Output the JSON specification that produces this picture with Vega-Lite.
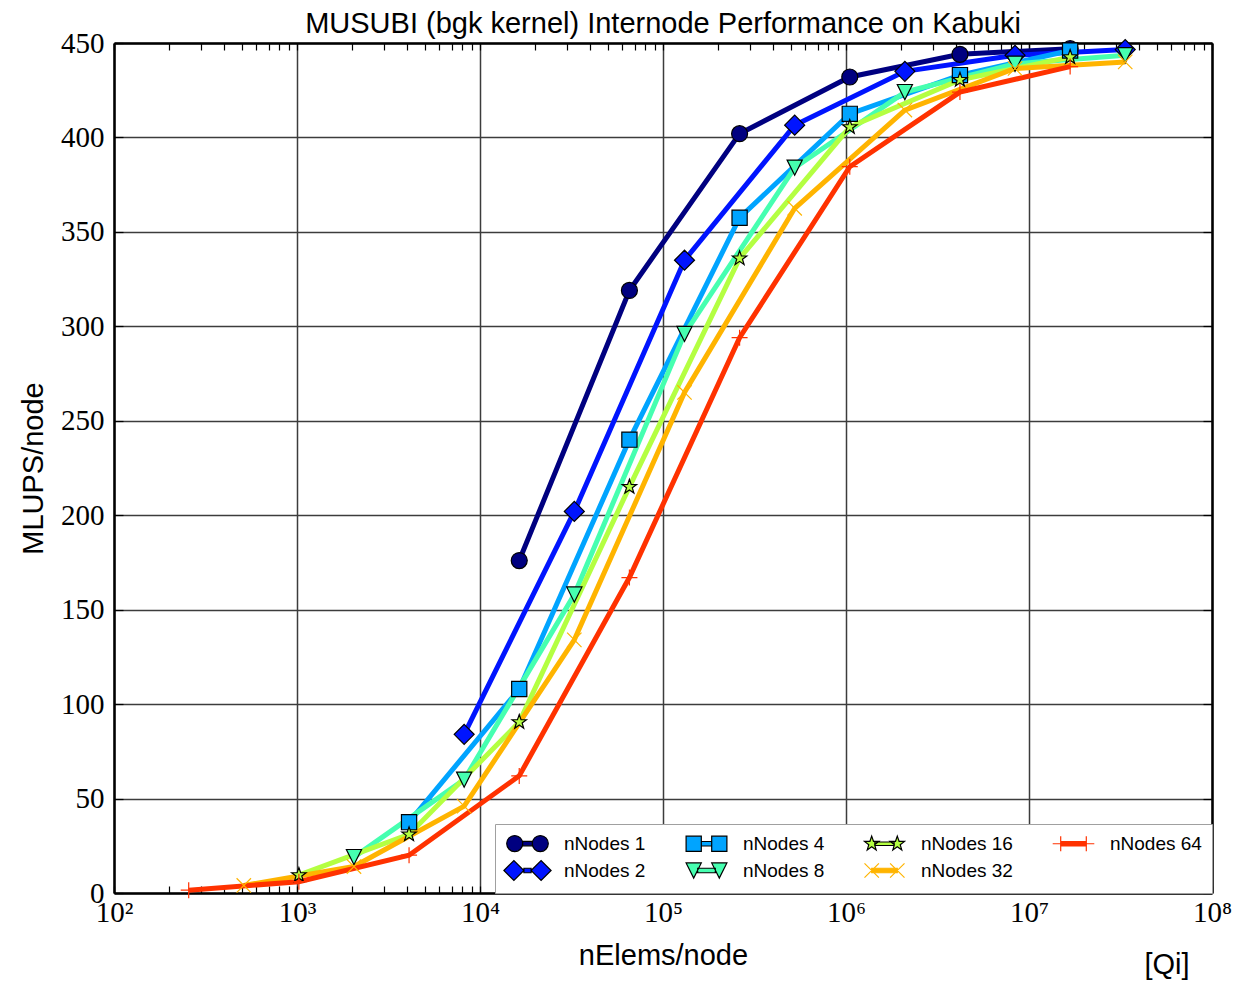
{
  "$schema": "https://vega.github.io/schema/vega-lite/v6.json",
  "width": 1098,
  "height": 850,
  "autosize": "none",
  "padding": {"left": 114, "top": 43, "right": 34, "bottom": 88},
  "background": "white",
  "title": {"text": "MUSUBI (bgk kernel) Internode Performance on Kabuki", "font": "Liberation Sans", "fontSize": 29, "fontWeight": "normal", "color": "black", "anchor": "middle", "offset": -10},
  "config": {"view": {"stroke": null}},
  "data": {"values": [
    {"nodes": "nNodes 1", "elems": 16384, "mlups": 176},
    {"nodes": "nNodes 1", "elems": 65536, "mlups": 319},
    {"nodes": "nNodes 1", "elems": 262144, "mlups": 402},
    {"nodes": "nNodes 1", "elems": 1048576, "mlups": 432},
    {"nodes": "nNodes 1", "elems": 4194304, "mlups": 444},
    {"nodes": "nNodes 1", "elems": 16777216, "mlups": 447},
    {"nodes": "nNodes 2", "elems": 8192, "mlups": 84},
    {"nodes": "nNodes 2", "elems": 32768, "mlups": 202},
    {"nodes": "nNodes 2", "elems": 131072, "mlups": 335},
    {"nodes": "nNodes 2", "elems": 524288, "mlups": 406.5},
    {"nodes": "nNodes 2", "elems": 2097152, "mlups": 435},
    {"nodes": "nNodes 2", "elems": 8388608, "mlups": 443.5},
    {"nodes": "nNodes 2", "elems": 33554432, "mlups": 446.5},
    {"nodes": "nNodes 4", "elems": 4096, "mlups": 37.5},
    {"nodes": "nNodes 4", "elems": 16384, "mlups": 108},
    {"nodes": "nNodes 4", "elems": 65536, "mlups": 240},
    {"nodes": "nNodes 4", "elems": 262144, "mlups": 357.5},
    {"nodes": "nNodes 4", "elems": 1048576, "mlups": 412.5},
    {"nodes": "nNodes 4", "elems": 4194304, "mlups": 433},
    {"nodes": "nNodes 4", "elems": 16777216, "mlups": 446},
    {"nodes": "nNodes 8", "elems": 2048, "mlups": 19},
    {"nodes": "nNodes 8", "elems": 8192, "mlups": 60},
    {"nodes": "nNodes 8", "elems": 32768, "mlups": 158},
    {"nodes": "nNodes 8", "elems": 131072, "mlups": 296},
    {"nodes": "nNodes 8", "elems": 524288, "mlups": 384},
    {"nodes": "nNodes 8", "elems": 2097152, "mlups": 424},
    {"nodes": "nNodes 8", "elems": 8388608, "mlups": 439},
    {"nodes": "nNodes 8", "elems": 33554432, "mlups": 443.5},
    {"nodes": "nNodes 16", "elems": 1024, "mlups": 9.5},
    {"nodes": "nNodes 16", "elems": 4096, "mlups": 31},
    {"nodes": "nNodes 16", "elems": 16384, "mlups": 90.5},
    {"nodes": "nNodes 16", "elems": 65536, "mlups": 215},
    {"nodes": "nNodes 16", "elems": 262144, "mlups": 336},
    {"nodes": "nNodes 16", "elems": 1048576, "mlups": 405.5},
    {"nodes": "nNodes 16", "elems": 4194304, "mlups": 430.5},
    {"nodes": "nNodes 16", "elems": 16777216, "mlups": 442.5},
    {"nodes": "nNodes 32", "elems": 512, "mlups": 4},
    {"nodes": "nNodes 32", "elems": 2048, "mlups": 14},
    {"nodes": "nNodes 32", "elems": 8192, "mlups": 46},
    {"nodes": "nNodes 32", "elems": 32768, "mlups": 134},
    {"nodes": "nNodes 32", "elems": 131072, "mlups": 265},
    {"nodes": "nNodes 32", "elems": 524288, "mlups": 362.5},
    {"nodes": "nNodes 32", "elems": 2097152, "mlups": 414.5},
    {"nodes": "nNodes 32", "elems": 8388608, "mlups": 436.5},
    {"nodes": "nNodes 32", "elems": 33554432, "mlups": 440},
    {"nodes": "nNodes 64", "elems": 256, "mlups": 1.5},
    {"nodes": "nNodes 64", "elems": 1024, "mlups": 6},
    {"nodes": "nNodes 64", "elems": 4096, "mlups": 20},
    {"nodes": "nNodes 64", "elems": 16384, "mlups": 62},
    {"nodes": "nNodes 64", "elems": 65536, "mlups": 167},
    {"nodes": "nNodes 64", "elems": 262144, "mlups": 294},
    {"nodes": "nNodes 64", "elems": 1048576, "mlups": 384.5},
    {"nodes": "nNodes 64", "elems": 4194304, "mlups": 424},
    {"nodes": "nNodes 64", "elems": 16777216, "mlups": 437.5}
  ]},
  "resolve": {"axis": {"x": "independent", "y": "independent"}},
  "layer": [
    {
      "mark": {"type": "line", "strokeWidth": 5, "clip": false},
      "encoding": {
        "x": {"field": "elems", "type": "quantitative",
          "scale": {"type": "log", "domain": [100, 100000000], "nice": false},
          "axis": {"orient": "bottom", "values": [100, 1000, 10000, 100000, 1000000, 10000000, 100000000],
            "labelExpr": "datum.value==100?'10²':datum.value==1000?'10³':datum.value==10000?'10⁴':datum.value==100000?'10⁵':datum.value==1000000?'10⁶':datum.value==10000000?'10⁷':'10⁸'",
            "grid": true, "gridColor": "#3c3c3c", "gridWidth": 1.5, "ticks": false,
            "domain": true, "domainColor": "black", "domainWidth": 2.5,
            "labelFont": "Liberation Serif", "labelFontSize": 29, "labelColor": "black", "labelPadding": 5, "labelFlush": false, "labelOverlap": false,
            "title": "nElems/node", "titleFont": "Liberation Sans", "titleFontSize": 29, "titleFontWeight": "normal", "titleColor": "black",
            "titleX": 549, "titleY": 62, "titleBaseline": "middle", "titleAlign": "center"}},
        "y": {"field": "mlups", "type": "quantitative",
          "scale": {"domain": [0, 450], "nice": false},
          "axis": {"orient": "left", "values": [0, 50, 100, 150, 200, 250, 300, 350, 400, 450],
            "grid": true, "gridColor": "#3c3c3c", "gridWidth": 1.5, "ticks": false,
            "domain": true, "domainColor": "black", "domainWidth": 2.5,
            "labelFont": "Liberation Serif", "labelFontSize": 29, "labelColor": "black", "labelPadding": 10, "labelFlush": false, "labelOverlap": false,
            "title": "MLUPS/node", "titleFont": "Liberation Sans", "titleFontSize": 29, "titleFontWeight": "normal", "titleColor": "black",
            "titleX": -81, "titleY": 425, "titleAngle": -90, "titleBaseline": "middle", "titleAlign": "center"}},
        "stroke": {"field": "nodes", "type": "nominal", "legend": null,
          "scale": {"domain": ["nNodes 64", "nNodes 32", "nNodes 16", "nNodes 8", "nNodes 4", "nNodes 2", "nNodes 1"],
                    "range": ["#ff3200", "#ffb400", "#b4ff42", "#46ffb0", "#00a4ff", "#0014ff", "#000080"]}}
      }
    },
    {
      "mark": {"type": "point", "filled": true, "size": 256, "strokeWidth": 1.2, "opacity": 1, "clip": false},
      "encoding": {
        "x": {"field": "elems", "type": "quantitative",
          "scale": {"type": "log", "domain": [100, 100000000], "nice": false},
          "axis": {"orient": "top", "values": [100,200,300,400,500,600,700,800,900,1000,2000,3000,4000,5000,6000,7000,8000,9000,10000,20000,30000,40000,50000,60000,70000,80000,90000,100000,200000,300000,400000,500000,600000,700000,800000,900000,1000000,2000000,3000000,4000000,5000000,6000000,7000000,8000000,9000000,10000000,20000000,30000000,40000000,50000000,60000000,70000000,80000000,90000000,100000000],
            "labels": false, "grid": false, "ticks": true, "tickSize": -7, "tickColor": "black", "tickWidth": 1.2,
            "domain": true, "domainColor": "black", "domainWidth": 2.5, "title": null}},
        "y": {"field": "mlups", "type": "quantitative",
          "scale": {"domain": [0, 450], "nice": false},
          "axis": {"orient": "right", "values": [0, 50, 100, 150, 200, 250, 300, 350, 400, 450],
            "labels": false, "grid": false, "ticks": true, "tickSize": -9, "tickColor": "black", "tickWidth": 1.2,
            "domain": true, "domainColor": "black", "domainWidth": 2.5, "title": null}},
        "fill": {"field": "nodes", "type": "nominal",
          "scale": {"domain": ["nNodes 1", "nNodes 2", "nNodes 4", "nNodes 8", "nNodes 16", "nNodes 32", "nNodes 64"],
                    "range": ["#000080", "#0014ff", "#00a4ff", "#46ffb0", "#b4ff42", "#ffb400", "#ff3200"]}},
        "shape": {"condition": [
            {"test": "datum.nodes=='nNodes 2'", "value": "M-1.25,0L0,-1.25L1.25,0L0,1.25Z"},
            {"test": "datum.nodes=='nNodes 4'", "value": "M-0.95,-0.95H0.95V0.95H-0.95Z"},
            {"test": "datum.nodes=='nNodes 8'", "value": "M-0.95,-0.95H0.95L0,0.95Z"},
            {"test": "datum.nodes=='nNodes 16'", "value": "M0,-0.95L0.223,-0.308L0.903,-0.294L0.361,0.118L0.559,0.769L0,0.38L-0.559,0.769L-0.361,0.118L-0.903,-0.294L-0.223,-0.308Z"},
            {"test": "datum.nodes=='nNodes 32'", "value": "M-0.9,-0.9L0.9,0.9M-0.9,0.9L0.9,-0.9"},
            {"test": "datum.nodes=='nNodes 64'", "value": "M-1,0H1M0,-1V1"}
          ], "value": "circle"},
        "stroke": {"condition": {"test": "datum.nodes=='nNodes 32'||datum.nodes=='nNodes 64'", "field": "nodes", "type": "nominal", "legend": null}, "value": "black"}
      }
    },
    {
      "transform": [{"filter": "false"}],
      "mark": {"type": "point", "filled": false, "size": 256, "strokeWidth": 1.2, "opacity": 1},
      "encoding": {
        "fill": {"field": "nodes", "type": "nominal",
          "scale": {"domain": ["nNodes 1", "nNodes 2", "nNodes 4", "nNodes 8", "nNodes 16", "nNodes 32", "nNodes 64"],
                    "range": ["#000080", "#0014ff", "#00a4ff", "#46ffb0", "#b4ff42", "#ffb400", "#ff3200"]},
          "legend": {"title": null, "orient": "bottom-right", "offset": 0, "columns": 4,
            "fillColor": "white", "strokeColor": "#a0a0a0", "padding": 10,
            "labelFont": "Liberation Sans", "labelFontSize": 19, "labelColor": "black",
            "symbolSize": 256, "symbolOffset": 13, "labelOffset": 27, "columnPadding": 37, "rowPadding": 4,
            "symbolStrokeWidth": 1.2, "symbolOpacity": 1}},
        "color": {"field": "nodes", "type": "nominal", "legend": null,
          "scale": {"domain": ["nNodes 1", "nNodes 2", "nNodes 4", "nNodes 8", "nNodes 16", "nNodes 32", "nNodes 64"],
                    "range": ["black", "black", "black", "black", "black", "#ffb400", "#ff3200"]}},
        "shape": {"field": "nodes", "type": "nominal", "legend": null,
          "scale": {"domain": ["nNodes 1", "nNodes 2", "nNodes 4", "nNodes 8", "nNodes 16", "nNodes 32", "nNodes 64"],
                    "range": [
                      "M-2.6,0A1,1 0 1,1 -0.6,0A1,1 0 1,1 -2.6,0Z M0.6,0A1,1 0 1,1 2.6,0A1,1 0 1,1 0.6,0Z M-0.6,-0.28H0.6V0.28H-0.6Z",
                      "M-2.95,0L-1.7,-1.25L-0.45,0L-1.7,1.25Z M0.45,0L1.7,-1.25L2.95,0L1.7,1.25Z M-0.45,-0.28H0.45V0.28H-0.45Z",
                      "M-2.55,-0.95H-0.65V0.95H-2.55Z M0.65,-0.95H2.55V0.95H0.65Z M-0.65,-0.28H0.65V0.28H-0.65Z",
                      "M-2.55,-0.95H-0.65L-1.6,0.95Z M0.65,-0.95H2.55L1.6,0.95Z M-1.1,-0.28H1.1V0.28H-1.1Z",
                      "M-1.6,-0.95L-1.377,-0.308L-0.697,-0.294L-1.239,0.118L-1.041,0.769L-1.6,0.38L-2.159,0.769L-1.961,0.118L-2.503,-0.294L-1.823,-0.308Z M1.6,-0.95L1.823,-0.308L2.503,-0.294L1.961,0.118L2.159,0.769L1.6,0.38L1.041,0.769L1.239,0.118L0.697,-0.294L1.377,-0.308Z M-1.2,-0.22H1.2V0.22H-1.2Z",
                      "M-2.5,-0.9L-0.7,0.9M-2.5,0.9L-0.7,-0.9M0.7,-0.9L2.5,0.9M0.7,0.9L2.5,-0.9M-1.6,-0.28H1.6V0.28H-1.6Z",
                      "M-2.6,0H-0.6M-1.6,-0.95V0.95M0.6,0H2.6M1.6,-0.95V0.95M-1.6,-0.28H1.6V0.28H-1.6Z"
                    ]}}
      }
    },
    {
      "data": {"values": [{"label": "[Qi]"}]},
      "mark": {"type": "text", "font": "Liberation Sans", "fontSize": 29, "fontWeight": "normal", "fill": "black", "align": "center", "baseline": "middle", "clip": false},
      "encoding": {
        "text": {"field": "label", "type": "nominal"},
        "x": {"datum": 56800000, "type": "quantitative",
          "scale": {"type": "log", "domain": [100, 100000000], "nice": false},
          "axis": {"orient": "bottom", "values": [100,200,300,400,500,600,700,800,900,1000,2000,3000,4000,5000,6000,7000,8000,9000,10000,20000,30000,40000,50000,60000,70000,80000,90000,100000,200000,300000,400000,500000,600000,700000,800000,900000,1000000,2000000,3000000,4000000,5000000,6000000,7000000,8000000,9000000,10000000,20000000,30000000,40000000,50000000,60000000,70000000,80000000,90000000,100000000],
            "labels": false, "grid": false, "ticks": true, "tickSize": -7, "tickColor": "black", "tickWidth": 1.2,
            "domain": false, "title": null}},
        "y": {"datum": -38, "type": "quantitative",
          "scale": {"domain": [0, 450], "nice": false},
          "axis": {"orient": "left", "values": [0, 50, 100, 150, 200, 250, 300, 350, 400, 450],
            "labels": false, "grid": false, "ticks": true, "tickSize": -9, "tickColor": "black", "tickWidth": 1.2,
            "domain": false, "title": null}}
      }
    }
  ]
}
